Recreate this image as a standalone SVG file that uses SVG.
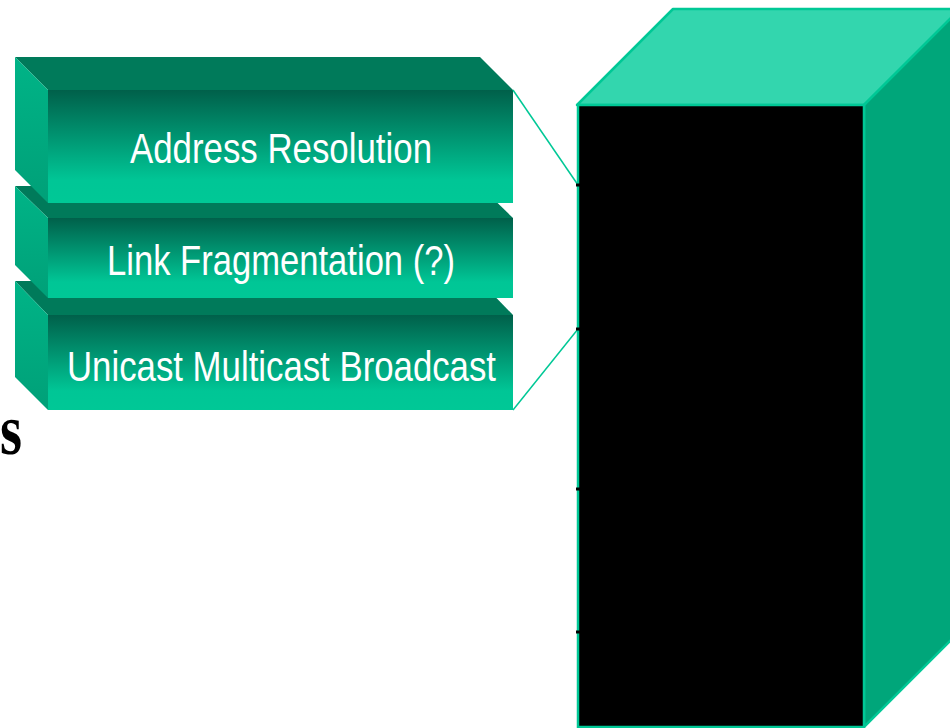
<svg xmlns="http://www.w3.org/2000/svg" width="950" height="728" viewBox="0 0 950 728">
<defs>
<linearGradient id="front" x1="0" y1="0" x2="0" y2="1">
<stop offset="0" stop-color="#00604A"/>
<stop offset="0.55" stop-color="#00A67E"/>
<stop offset="0.8" stop-color="#00C696"/>
<stop offset="1" stop-color="#00C896"/>
</linearGradient>
<linearGradient id="side" x1="0" y1="0" x2="0" y2="1">
<stop offset="0" stop-color="#00B487"/>
<stop offset="1" stop-color="#00A078"/>
</linearGradient>
<style>
.top{fill:#007A5A}
.left{fill:url(#side)}
.front{fill:url(#front)}
.lbl{fill:#FFFFFF;font-family:"Liberation Sans Narrow","Liberation Sans",Arial,sans-serif;font-size:42px;text-anchor:start}
.conn{stroke:#00C896;stroke-width:1.5;fill:none}
.tick{stroke:#000;stroke-width:3}
</style>
</defs>
<rect width="950" height="728" fill="#FFFFFF"/>
<text x="0" y="454" font-family="Liberation Serif,Times New Roman,serif" font-weight="bold" font-size="72" fill="#000" textLength="22" lengthAdjust="spacingAndGlyphs">s</text>
<g id="cube">
<polygon points="577,105 673,9 960,9 864,105" fill="#33D6AE" stroke="#00C896" stroke-width="2.5" stroke-linejoin="round"/>
<polygon points="864,105 960,9 960,631 864,727" fill="#00A67A" stroke="#00C896" stroke-width="2.5"/>
<rect x="578" y="105" width="286" height="622" fill="#000" stroke="#00C896" stroke-width="2.5"/>
</g>
<g id="box3">
<polygon points="15,281 480,281 513,315 48,315" class="top"/>
<polygon points="15,281 48,315 48,410 15,377" class="left"/>
<rect x="48" y="315" width="465" height="95" class="front"/>
<text x="67" y="381" class="lbl" textLength="429" lengthAdjust="spacingAndGlyphs">Unicast Multicast Broadcast</text>
</g>
<g id="box2">
<polygon points="15,186 480,186 513,218 48,218" class="top"/>
<polygon points="15,186 48,218 48,298 15,265" class="left"/>
<rect x="48" y="218" width="465" height="80" class="front"/>
<text x="107" y="275" class="lbl" textLength="348" lengthAdjust="spacingAndGlyphs">Link Fragmentation (?)</text>
</g>
<g id="box1">
<polygon points="15,57 480,57 513,90 48,90" class="top"/>
<polygon points="15,57 48,90 48,203 15,170" class="left"/>
<rect x="48" y="90" width="465" height="113" class="front"/>
<text x="130" y="163" class="lbl" textLength="302" lengthAdjust="spacingAndGlyphs">Address Resolution</text>
</g>
<g id="connectors">
<line x1="513" y1="90" x2="578" y2="185" class="conn"/>
<line x1="513" y1="410" x2="578" y2="329" class="conn"/>
<line x1="576" y1="185" x2="580" y2="185" class="tick"/>
<line x1="576" y1="329" x2="580" y2="329" class="tick"/>
<line x1="576" y1="489" x2="580" y2="489" class="tick"/>
<line x1="576" y1="632" x2="580" y2="632" class="tick"/>
</g>
</svg>
